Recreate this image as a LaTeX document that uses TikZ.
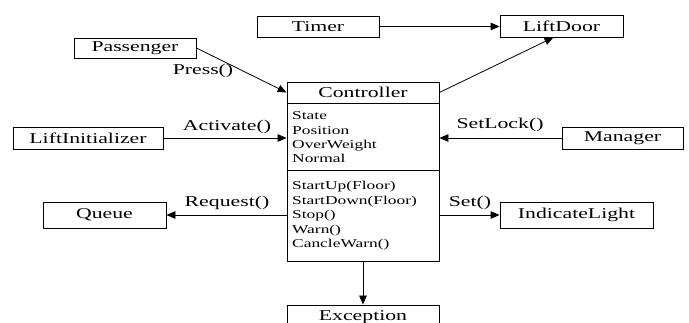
\documentclass[tikz,border=0pt]{standalone}
\usepackage{fontspec}
\setmainfont[FakeStretch=1.45]{Liberation Serif}
\usetikzlibrary{arrows.meta,calc}
\begin{document}
\begin{tikzpicture}[x=1pt,y=-1pt,
  box/.style={draw,line width=0.8pt,inner sep=0pt,font=\fontsize{15}{18}\selectfont},
  lbl/.style={inner sep=0pt,font=\fontsize{15}{18}\selectfont},
  item/.style={inner sep=0pt,anchor=base west,font=\fontsize{12}{14}\selectfont},
  conn/.style={line width=0.8pt,-{Triangle[length=9pt,width=7.5pt]}}]
\useasboundingbox (0,0) rectangle (689,323);
\clip (0,0) rectangle (689,323);
% boxes
\node[box,minimum width=122,minimum height=21] (timer) at (318,26.5) {Timer};
\node[box,minimum width=123,minimum height=22] (door) at (561.5,26) {LiftDoor};
\node[box,minimum width=122,minimum height=20] (pass) at (135,48) {Passenger};
\node[box,minimum width=150,minimum height=22] (init) at (88,138) {LiftInitializer};
\node[box,minimum width=121,minimum height=22] (mgr) at (622.5,138) {Manager};
\node[box,minimum width=123,minimum height=26] (queue) at (104.5,215) {Queue};
\node[box,minimum width=153,minimum height=26] (light) at (576.5,215) {IndicateLight};
\node[box,minimum width=152,minimum height=24] (exc) at (363,317) {Exception};
% controller
\node[box,minimum width=152,minimum height=179] (ctrl) at (363,171.5) {};
\node[box,draw=none,minimum width=152,minimum height=21] (head) at (363,92.5) {Controller};
\draw[line width=0.8pt] (ctrl.west |- 0,103) -- (ctrl.east |- 0,103);
\draw[line width=0.8pt] (ctrl.west |- 0,170) -- (ctrl.east |- 0,170);
\node[item] (a1) at (292,120) {State};
\node[item] (a2) at (292,134.3) {Position};
\node[item] (a3) at (292,148.6) {OverWeight};
\node[item] (a4) at (292,163) {Normal};
\node[item] (m1) at (292,190) {StartUp(Floor)};
\node[item] (m2) at (292,204.5) {StartDown(Floor)};
\node[item] (m3) at (292,219) {Stop()};
\node[item] (m4) at (292,233.5) {Warn()};
\node[item] (m5) at (292,248) {CancleWarn()};
% connectors
\draw[conn] (timer.east) -- (door.west |- timer.east);
\draw[conn] (pass.east) -- (head.west);
\draw[conn] (head.east) -- ([xshift=-8pt]door.south);
\draw[conn] (init.east) -- (ctrl.west |- init.east);
\draw[conn] (mgr.west) -- (ctrl.east |- mgr.west);
\draw[conn] (ctrl.west |- queue.east) -- (queue.east);
\draw[conn] (ctrl.east |- light.west) -- (light.west);
\draw[conn] (ctrl.south) -- (exc.north);
% labels
\node[lbl] (lpress) at (203,71) {Press()};
\node[lbl] (lact) at (227,127) {Activate()};
\node[lbl] (llock) at (500,125) {SetLock()};
\node[lbl] (lreq) at (227,203) {Request()};
\node[lbl] (lset) at (470,203) {Set()};
\end{tikzpicture}
\end{document}
